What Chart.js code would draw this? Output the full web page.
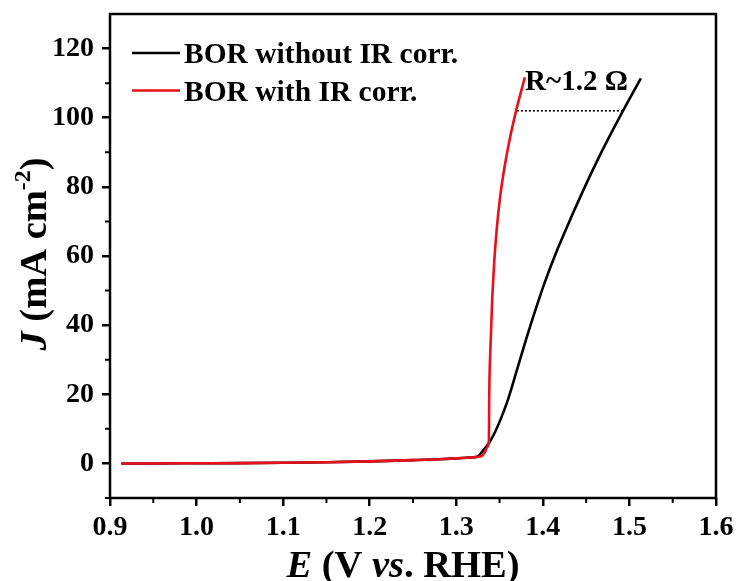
<!DOCTYPE html>
<html><head><meta charset="utf-8">
<script src="https://cdn.jsdelivr.net/npm/chart.js@4.4.1/dist/chart.umd.min.js"></script>
<style>html,body{margin:0;padding:0;background:#fff}</style>
</head><body>
<canvas id="c" width="740" height="581"></canvas>
<script>
// ---- data ----
const seriesNames = ['BOR without IR corr.', 'BOR with IR corr.'];
const withoutIR_E = [0.913, 0.95, 1.0, 1.05, 1.1, 1.15, 1.2, 1.25, 1.28, 1.30, 1.315, 1.3238, 1.3315, 1.3378, 1.3448, 1.3509, 1.3596, 1.3700, 1.3808, 1.3922, 1.4021, 1.4170, 1.4331, 1.4504, 1.4694, 1.4924, 1.5132];
const withoutIR_J = [0.0, 0.0, 0.05, 0.1, 0.2, 0.35, 0.6, 0.95, 1.2, 1.45, 1.7, 1.9, 3.9, 5.9, 9.1, 12.6, 18.4, 27.0, 36.0, 45.0, 52.3, 62.0, 71.4, 81.0, 90.9, 101.9, 111.4];
const withIR_E = [0.913, 0.95, 1.0, 1.05, 1.1, 1.15, 1.2, 1.25, 1.28, 1.30, 1.315, 1.324, 1.3292, 1.333, 1.3359, 1.3377, 1.3380, 1.3394, 1.3415, 1.3425, 1.3440, 1.3467, 1.3503, 1.3553, 1.3617, 1.3690, 1.3792];
const withIR_J = [0.0, 0.0, 0.05, 0.1, 0.2, 0.35, 0.6, 0.95, 1.2, 1.45, 1.7, 1.9, 2.1, 3.3, 4.8, 6.8, 18.4, 32.9, 47.4, 52.3, 59.0, 67.7, 76.4, 85.1, 93.8, 101.9, 111.7];
const rDropE = [1.370, 1.492];
const rDropJ = [102, 102];
const rLabel = 'R~1.2 \u03A9';
const xTicks = [0.9, 1.0, 1.1, 1.2, 1.3, 1.4, 1.5, 1.6];
const xMinorTicks = [0.95, 1.05, 1.15, 1.25, 1.35, 1.45, 1.55];
const yTicks = [0, 20, 40, 60, 80, 100, 120];
const yMinorTicks = [-10, 10, 30, 50, 70, 90, 110];

const SERIF = "'Liberation Serif', 'Times New Roman', serif";
const toPts = (xs, ys) => xs.map((x, i) => ({x: x, y: ys[i]}));

function measureRich(ctx, segs, size) {
  let w = 0;
  segs.forEach(s => {
    const fs = s.sup ? size * 0.62 : size;
    ctx.font = (s.i ? 'italic ' : '') + 'bold ' + fs + 'px ' + SERIF;
    s._w = ctx.measureText(s.t).width;
    s._fs = fs;
    w += s._w;
  });
  return w;
}
function drawRich(ctx, segs, size, cx, baseY) {
  const w = measureRich(ctx, segs, size);
  let x = cx - w / 2;
  ctx.textBaseline = 'alphabetic';
  ctx.textAlign = 'left';
  segs.forEach(s => {
    ctx.font = (s.i ? 'italic ' : '') + 'bold ' + s._fs + 'px ' + SERIF;
    ctx.fillText(s.t, x, s.sup ? baseY - size * 0.42 : baseY);
    x += s._w;
  });
}

const decor = {
  id: 'decor',
  afterDatasetsDraw(chart) {
    const ctx = chart.ctx;
    const a = chart.chartArea;
    const xs = chart.scales.x, ys = chart.scales.y;
    ctx.save();
    ctx.strokeStyle = '#000';
    ctx.lineWidth = 2.5;
    ctx.strokeRect(a.left, a.top, a.right - a.left, a.bottom - a.top);
    // minor ticks
    ctx.lineWidth = 2;
    ctx.beginPath();
    xMinorTicks.forEach(v => {
      const px = xs.getPixelForValue(v);
      ctx.moveTo(px, a.bottom); ctx.lineTo(px, a.bottom + 5);
    });
    yMinorTicks.forEach(v => {
      const py = ys.getPixelForValue(v);
      ctx.moveTo(a.left, py); ctx.lineTo(a.left - 5, py);
    });
    ctx.stroke();
    // legend
    const rows = [chart.data.datasets[0], chart.data.datasets[1]];
    rows.forEach((ds, i) => {
      const ly = 53 + i * 37.5;
      ctx.strokeStyle = ds.borderColor;
      ctx.lineWidth = 2.5;
      ctx.beginPath(); ctx.moveTo(132, ly); ctx.lineTo(180, ly); ctx.stroke();
      ctx.fillStyle = '#000';
      ctx.font = 'bold 29.5px ' + SERIF;
      ctx.textAlign = 'left'; ctx.textBaseline = 'alphabetic';
      ctx.fillText(ds.label, 184, ly + 10);
    });
    // annotation
    ctx.font = 'bold 29px ' + SERIF;
    ctx.fillText(rLabel, xs.getPixelForValue(1.3795), ys.getPixelForValue(108));
    // axis titles
    ctx.fillStyle = '#000';
    drawRich(ctx, [{t: 'E', i: true}, {t: ' (V '}, {t: 'vs', i: true}, {t: '. RHE)'}], 38.5, 403, 577);
    ctx.save();
    ctx.translate(46, 254);
    ctx.rotate(-Math.PI / 2);
    drawRich(ctx, [{t: 'J', i: true}, {t: ' (mA cm'}, {t: '-2', sup: true}, {t: ')'}], 38.5, 0, 0);
    ctx.restore();
    ctx.restore();
  }
};

new Chart(document.getElementById('c'), {
  type: 'line',
  data: {
    datasets: [
      {label: seriesNames[0], data: toPts(withoutIR_E, withoutIR_J), borderColor: '#000000', borderWidth: 2.6, pointRadius: 0, cubicInterpolationMode: 'monotone', order: 2},
      {label: seriesNames[1], data: toPts(withIR_E, withIR_J), borderColor: '#e8101a', borderWidth: 2.6, pointRadius: 0, cubicInterpolationMode: 'monotone', order: 1},
      {label: 'R drop', data: toPts(rDropE, rDropJ), borderColor: '#000000', borderWidth: 1.6, borderDash: [2, 2], pointRadius: 0, order: 3}
    ]
  },
  options: {
    responsive: false,
    animation: false,
    events: [],
    layout: {padding: {left: 0, right: 24, top: 14, bottom: 0}},
    plugins: {legend: {display: false}, tooltip: {enabled: false}, title: {display: false}},
    scales: {
      x: {
        type: 'linear', min: 0.9, max: 1.6,
        afterBuildTicks: s => { s.ticks = xTicks.map(v => ({value: v})); },
        afterFit: s => { s.height = 83; s.paddingLeft = 0; s.paddingRight = 0; },
        grid: {drawOnChartArea: false, drawTicks: true, tickLength: 8, lineWidth: 2.5, color: '#000'},
        border: {display: false},
        ticks: {color: '#000', font: {family: SERIF, size: 28, weight: 'bold'}, padding: 5, maxRotation: 0,
                callback: v => Number(v).toFixed(1)}
      },
      y: {
        type: 'linear', min: -10, max: 130,
        afterBuildTicks: s => { s.ticks = yTicks.map(v => ({value: v})); },
        afterFit: s => { s.width = 110; s.paddingTop = 0; s.paddingBottom = 0; },
        grid: {drawOnChartArea: false, drawTicks: true, tickLength: 8, lineWidth: 2.5, color: '#000'},
        border: {display: false},
        ticks: {color: '#000', font: {family: SERIF, size: 28, weight: 'bold'}, padding: 8,
                callback: v => String(v)}
      }
    }
  },
  plugins: [decor]
});
</script>
</body></html>
